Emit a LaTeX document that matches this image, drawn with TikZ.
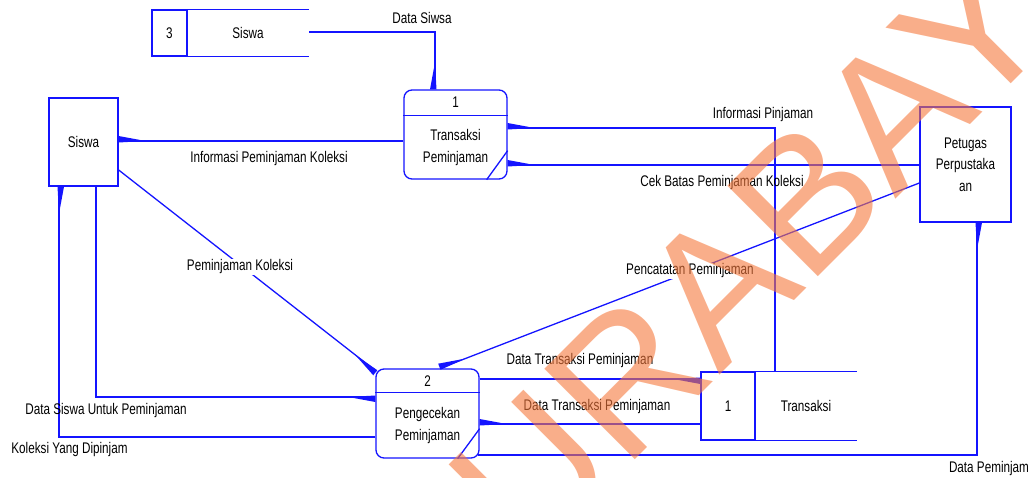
\documentclass[tikz,border=0pt]{standalone}
\usepackage{fontspec}
\setmainfont{Liberation Sans}[FakeStretch=0.76]
\newfontfamily\wmfont{Liberation Sans}
\usetikzlibrary{calc}
\definecolor{flowc}{RGB}{20,20,255}
\definecolor{wmc}{RGB}{245,120,60}
\tikzset{
  lbl/.style={font=\fontsize{15.4}{21.5}\selectfont, inner sep=1pt, text=black},
  wlbl/.style={lbl, fill=white},
  flow/.style={draw=flowc, line width=1.3pt},
  ent/.style={draw=flowc, line width=1.3pt, inner sep=0pt, font=\fontsize{15.4}{21.5}\selectfont, align=center},
  proc/.style={draw=flowc, line width=1.3pt, rounded corners=8pt, inner sep=0pt},
  storecell/.style={inner sep=0pt, font=\fontsize{15.4}{21.5}\selectfont},
}
\newcommand\hw[2]{\fill[flowc] ($(#1)!5pt!90:(#2)$) -- ($(#1)!-1.5pt!90:(#2)$) -- ($(#1)!27pt!(#2)$) -- cycle;}
\begin{document}
\begin{tikzpicture}[x=1pt,y=-1pt]
\useasboundingbox (0,0) rectangle (1031,477);
% entities
\node[ent, minimum width=69pt, minimum height=88pt] (siswa) at (83.5,142) {Siswa};
\node[ent, minimum width=91pt, minimum height=115pt] (petugas) at (965.5,164.5) {Petugas\\Perpustaka\\an};
% processes
\node[proc, minimum width=103pt, minimum height=89pt] (p1) at (455.5,134.5) {};
\draw[flow] ($(p1.north west)+(0,26)$) -- ($(p1.north east)+(0,26)$);
\draw[flow] ($(p1.south east)+(-21,0)$) -- ($(p1.south east)+(0,-29)$);
\node[lbl] (p1n) at ($(p1.north)+(0,13)$) {1};
\node[lbl, align=center] (p1t) at ($(p1.center)+(0,13)$) {Transaksi\\Peminjaman};
\node[proc, minimum width=103pt, minimum height=89pt] (p2) at (427.5,413.5) {};
\draw[flow] ($(p2.north west)+(0,24)$) -- ($(p2.north east)+(0,24)$);
\draw[flow] ($(p2.south east)+(-22,0)$) -- ($(p2.south east)+(0,-30)$);
\node[lbl] (p2n) at ($(p2.north)+(0,12.5)$) {2};
\node[lbl, align=center] (p2t) at ($(p2.center)+(0,12)$) {Pengecekan\\Peminjaman};
% data stores
\node[storecell, draw=flowc, line width=1.3pt, minimum width=35pt, minimum height=46pt] (ds3n) at (169.5,33) {3};
\node[storecell, minimum width=122pt, minimum height=46pt] (ds3) at (248,33) {Siswa};
\draw[flow] (ds3.north west) -- (ds3.north east);
\draw[flow] (ds3.south west) -- (ds3.south east);
\node[storecell, draw=flowc, line width=1.3pt, minimum width=54pt, minimum height=68pt] (ds1n) at (728,406) {1};
\node[storecell, minimum width=102pt, minimum height=68pt] (ds1) at (806,406) {Transaksi};
\draw[flow] (ds1.north west) -- (ds1.north east);
\draw[flow] (ds1.south west) -- (ds1.south east);
% connector end points
\coordinate (c1a) at (p1.west |- 0,141);
\coordinate (c1b) at (siswa.east |- 0,141);
\coordinate (c2a) at (ds3.east |- 0,32);
\coordinate (c2b) at (p1.north -| 435,0);
\coordinate (c2k) at (c2b |- c2a);
\coordinate (c3a) at (ds1.north -| 775,0);
\coordinate (c3b) at (p1.east |- 0,128);
\coordinate (c3k) at (c3a |- c3b);
\coordinate (c4a) at (petugas.west |- 0,165);
\coordinate (c4b) at (p1.east |- 0,165);
\coordinate (c5a) at (petugas.west |- 0,183);
\coordinate (c5b) at (p2.north -| 440,0);
\coordinate (c6a) at (siswa.east |- 0,170);
\coordinate (c6b) at ($(p2.north west)+(1,3)$);
\coordinate (c7a) at (siswa.south -| 96,0);
\coordinate (c7b) at (p2.west |- 0,397);
\coordinate (c7k) at (c7a |- c7b);
\coordinate (c8a) at (p2.west |- 0,437);
\coordinate (c8b) at (siswa.south -| 59,0);
\coordinate (c8k) at (c8b |- c8a);
\coordinate (c9a) at (p2.east |- 0,379);
\coordinate (c9b) at (ds1n.west |- 0,379);
\coordinate (c10a) at (ds1n.west |- 0,424);
\coordinate (c10b) at (p2.east |- 0,424);
\coordinate (c11a) at ($(p2.east |- 0,455)+(-1.5,0)$);
\coordinate (c11b) at (petugas.south -| 977,0);
\coordinate (c11k) at (c11b |- c11a);
% connectors
\draw[flow] (c1a) -- (c1b); \hw{c1b}{c1a}
\draw[flow] (c2a) -- (c2k) -- (c2b); \hw{c2b}{c2k}
\draw[flow] (c3a) -- (c3k) -- (c3b); \hw{c3b}{c3k}
\draw[flow] (c4a) -- (c4b); \hw{c4b}{c4a}
\draw[flow] (c5a) -- (c5b); \hw{c5b}{c5a}
\draw[flow] (c6a) -- (c6b); \hw{c6b}{c6a}
\draw[flow] (c7a) -- (c7k) -- (c7b); \hw{c7b}{c7k}
\draw[flow] (c8a) -- (c8k) -- (c8b); \hw{c8b}{c8k}
\draw[flow] (c9a) -- (c9b); \hw{c9b}{c9a}
\draw[flow] (c10a) -- (c10b); \hw{c10b}{c10a}
\draw[flow] (c11a) -- (c11k) -- (c11b); \hw{c11b}{c11k}
% labels
\node[lbl] (l2) at (422,18) {Data Siwsa};
\node[lbl] (l1) at (269,159) {Informasi Peminjaman Koleksi};
\node[lbl] (l3) at (763,115) {Informasi Pinjaman};
\node[lbl] (l4) at (722,183) {Cek Batas Peminjaman Koleksi};
\node[wlbl] (l5) at (690,271) {Pencatatan Peminjaman};
\node[wlbl] (l6) at (240,267) {Peminjaman Koleksi};
\node[lbl] (l7) at (106,411) {Data Siswa Untuk Peminjaman};
\node[lbl] (l8) at (69.5,450) {Koleksi Yang Dipinjam};
\node[lbl] (l9) at (580,361) {Data Transaksi Peminjaman};
\node[lbl] (l10) at (597,407) {Data Transaksi Peminjaman};
\node[lbl] (l11) at (989,469) {Data Peminjam};
% watermark
\node[text=wmc, text opacity=0.6, rotate=45, anchor=base west, inner sep=0pt, font=\wmfont\fontsize{186}{186}\selectfont] (wm) at (442,653) {SURABAYA};
\end{tikzpicture}
\end{document}
